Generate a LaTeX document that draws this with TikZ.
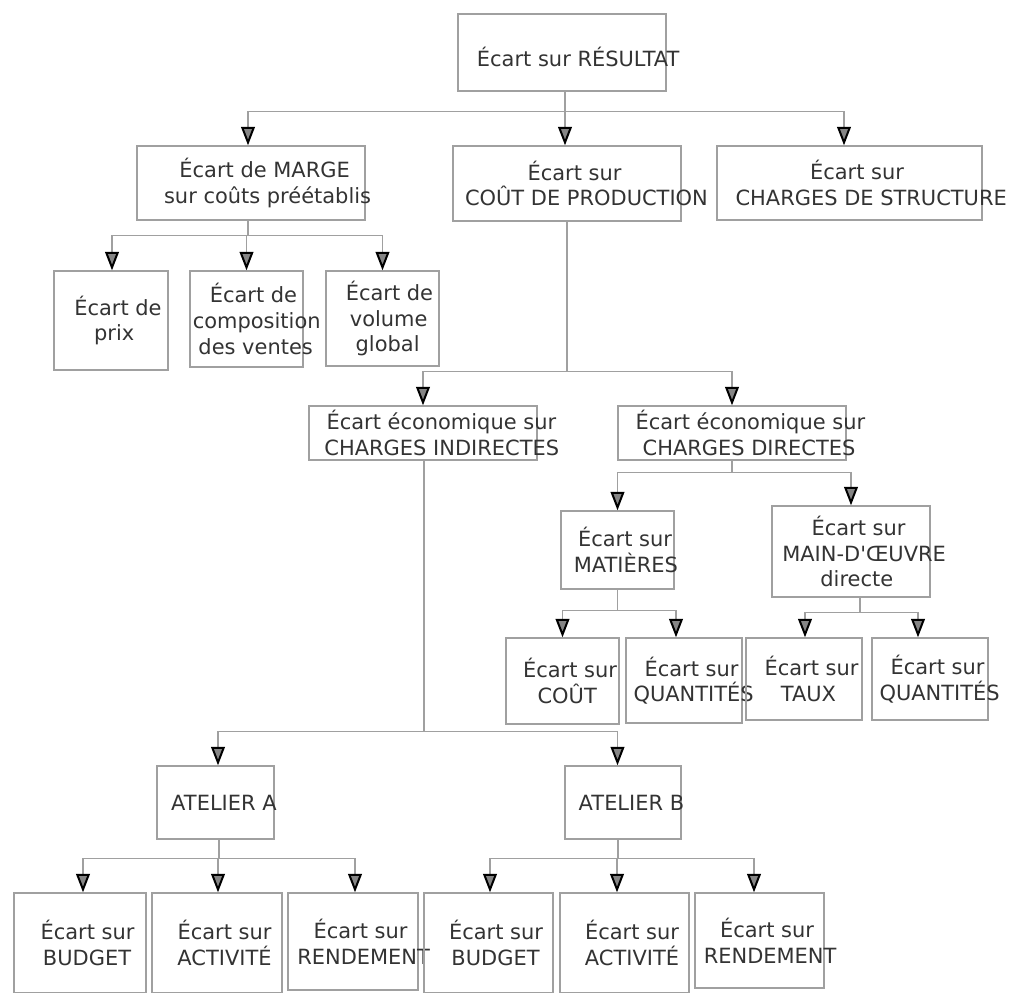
\documentclass[tikz,border=0pt]{standalone}
\usepackage{fontspec}
\setmainfont{DejaVu Sans}
\usetikzlibrary{arrows.meta}
\definecolor{boxline}{HTML}{A0A0A0}
\definecolor{boxtext}{HTML}{333333}
\definecolor{tipfill}{HTML}{858585}
\newlength\pxu
\setlength\pxu{0.025cm}
\newlength\natw
% one line of text, centred on a narrower width than it really takes
\newcommand\tline[1]{\settowidth\natw{#1}\makebox[0.84\natw][l]{#1}}

\begin{document}
\begin{tikzpicture}[
  x=0.025cm, y=-0.025cm,
  box/.style={rectangle, draw=boxline, line width=1.3\pxu, inner sep=0pt, align=center, text=boxtext, font=\fontsize{14.9pt}{18.3pt}\selectfont},
  conn/.style={draw=boxline, line width=1.3\pxu, -{Triangle[length=0.46cm, width=0.34cm, color=black, fill=tipfill, line width=0.05cm]}}]
\useasboundingbox[fill=white] (0,0) rectangle (1010,992);
% level 1 and 2
\node[box, minimum width=208\pxu, minimum height=77\pxu, text height=12pt, text depth=3pt] (res) at (562,52.5) {\raisebox{-8\pxu}{\tline{Écart sur RÉSULTAT}}};
\node[box, minimum width=228\pxu, minimum height=74\pxu] (marge) at (251,183) {\tline{Écart de MARGE}\\\tline{sur coûts préétablis}};
\node[box, minimum width=228\pxu, minimum height=75\pxu] (cout) at (567,183.5) {\tline{Écart sur}\\\tline{COÛT DE PRODUCTION}};
\node[box, minimum width=265\pxu, minimum height=74\pxu] (struct) at (849.5,183) {\tline{Écart sur}\\\tline{CHARGES DE STRUCTURE}};
% marge
\node[box, minimum width=114\pxu, minimum height=99\pxu] (prix) at (111,320.5) {\tline{Écart de}\\\tline{prix}};
\node[box, minimum width=113\pxu, minimum height=96\pxu] (compo) at (246.5,319) {\tline{Écart de}\\\tline{composition}\\\tline{des ventes}};
\node[box, minimum width=113\pxu, minimum height=95\pxu] (volume) at (382.5,318.5) {\tline{Écart de}\\\tline{volume}\\\tline{global}};
% cout de production
\node[box, minimum width=228\pxu, minimum height=54\pxu] (indir) at (423,433) {\tline{Écart économique sur}\\\tline{CHARGES INDIRECTES}};
\node[box, minimum width=228\pxu, minimum height=54\pxu] (dir) at (732,433) {\tline{Écart économique sur}\\\tline{CHARGES DIRECTES}};
\node[box, minimum width=113\pxu, minimum height=78\pxu] (mat) at (617.5,550) {\tline{Écart sur}\\\tline{MATIÈRES}};
\node[box, minimum width=158\pxu, minimum height=91\pxu] (mo) at (851,551.5) {\tline{Écart sur}\\\tline{MAIN-D\textquotesingle ŒUVRE}\\\tline{directe}};
\node[box, minimum width=113\pxu, minimum height=86\pxu] (cmat) at (562.5,681) {\tline{Écart sur}\\\tline{COÛT}};
\node[box, minimum width=116\pxu, minimum height=85\pxu] (qmat) at (684,680.5) {\tline{Écart sur}\\\tline{QUANTITÉS}};
\node[box, minimum width=116\pxu, minimum height=82\pxu] (taux) at (804,679) {\tline{Écart sur}\\\tline{TAUX}};
\node[box, minimum width=116\pxu, minimum height=82\pxu] (qmo) at (930,679) {\tline{Écart sur}\\\tline{QUANTITÉS}};
% ateliers
\node[box, minimum width=117\pxu, minimum height=73\pxu] (ata) at (215.5,802.5) {\tline{ATELIER A}};
\node[box, minimum width=116\pxu, minimum height=73\pxu] (atb) at (623,802.5) {\tline{ATELIER B}};
\node[box, minimum width=132\pxu, minimum height=100\pxu] (bud1) at (80,943) {\tline{Écart sur}\\\tline{BUDGET}};
\node[box, minimum width=130\pxu, minimum height=100\pxu] (act1) at (217,943) {\tline{Écart sur}\\\tline{ACTIVITÉ}};
\node[box, minimum width=130\pxu, minimum height=97\pxu] (ren1) at (353,941.5) {\tline{Écart sur}\\\tline{RENDEMENT}};
\node[box, minimum width=129\pxu, minimum height=100\pxu] (bud2) at (488.5,943) {\tline{Écart sur}\\\tline{BUDGET}};
\node[box, minimum width=129\pxu, minimum height=100\pxu] (act2) at (624.5,943) {\tline{Écart sur}\\\tline{ACTIVITÉ}};
\node[box, minimum width=129\pxu, minimum height=95\pxu] (ren2) at (759.5,940.5) {\tline{Écart sur}\\\tline{RENDEMENT}};
% connectors
\foreach \c/\dx in {marge/-3, cout/-2, struct/-5.5}
  \draw[conn] ([xshift=3\pxu]res.south) -- ++(0,20) -| ([xshift=\dx\pxu]\c.north);
\foreach \c/\dx in {prix/1, compo/0, volume/0}
  \draw[conn] ([xshift=-3\pxu]marge.south) -- ++(0,15) -| ([xshift=\dx\pxu]\c.north);
\foreach \c in {indir, dir}
  \draw[conn] (cout.south) -- ++(0,150) -| (\c.north);
\foreach \c in {mat, mo}
  \draw[conn] (dir.south) -- ++(0,12) -| (\c.north);
\foreach \c/\dx in {cmat/0, qmat/-8}
  \draw[conn] (mat.south) -- ++(0,21) -| ([xshift=\dx\pxu]\c.north);
\foreach \c/\dx in {taux/1, qmo/-12}
  \draw[conn] ([xshift=9\pxu]mo.south) -- ++(0,15) -| ([xshift=\dx\pxu]\c.north);
\foreach \c/\dx in {ata/2.5, atb/-5.5}
  \draw[conn] ([xshift=1\pxu]indir.south) -- ++(0,271) -| ([xshift=\dx\pxu]\c.north);
\foreach \c/\dx in {bud1/3, act1/1, ren1/2}
  \draw[conn] ([xshift=3.5\pxu]ata.south) -- ++(0,19) -| ([xshift=\dx\pxu]\c.north);
\foreach \c/\dx in {bud2/1.5, act2/-7.5, ren2/-5.5}
  \draw[conn] ([xshift=-5\pxu]atb.south) -- ++(0,19) -| ([xshift=\dx\pxu]\c.north);
\end{tikzpicture}
\end{document}
